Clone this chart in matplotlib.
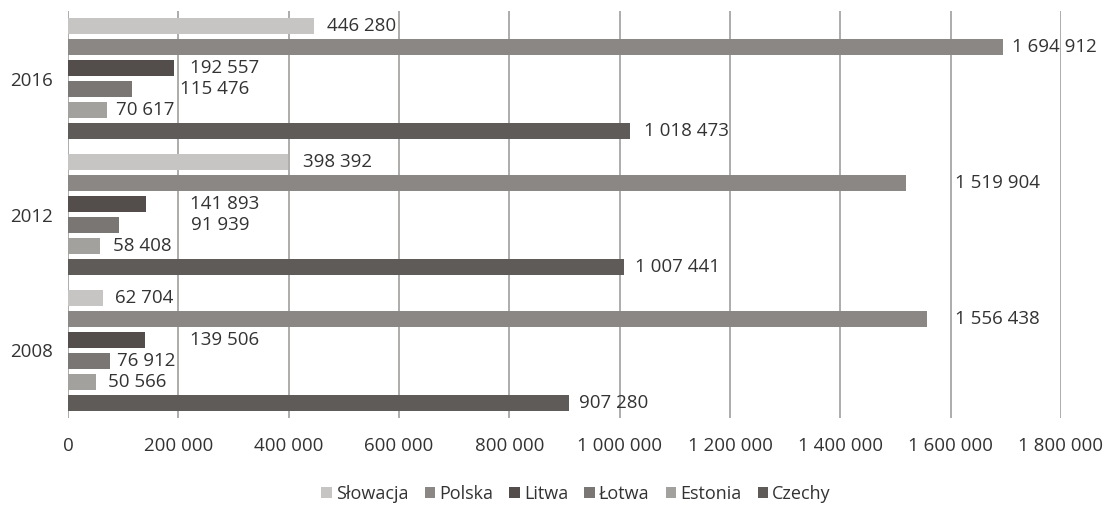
import matplotlib.pyplot as plt
import numpy as np
from matplotlib.patches import Patch

plt.rcParams['font.family'] = ['Open Sans', 'DejaVu Sans']

# Data
years = ['2008', '2012', '2016']
countries = ['Słowacja', 'Polska', 'Litwa', 'Łotwa', 'Estonia', 'Czechy']
slowacja = [62704, 398392, 446280]
polska = [1556438, 1519904, 1694912]
litwa = [139506, 141893, 192557]
lotwa = [76912, 91939, 115476]
estonia = [50566, 58408, 70617]
czechy = [907280, 1007441, 1018473]
series = [slowacja, polska, litwa, lotwa, estonia, czechy]
colors = ['#c6c5c3', '#8a8784', '#534e4b', '#7a7673', '#a3a19e', '#5f5b58']

# label offsets (pixels) from bar end, as placed in the original
label_dx = [
    [12, 28, 45, 7, 12, 10],    # 2008
    [15, 49, 44, 72, 13, 11],   # 2012
    [13, 9, 16, 48, 9, 14],     # 2016
]

def fmt(v):
    return f'{v:,}'.replace(',', ' ')

text_col = '#333333'
fs = 13.5

fig = plt.figure(figsize=(11.05, 5.12), dpi=100)
ax = fig.add_axes([68/1105, 94/512, (1061-68)/1105, 407/512])

slot = 0.155
h = 0.118
y = np.arange(len(years))
for j, (vals, c) in enumerate(zip(series, colors)):
    yy = y + (2.5 - j) * slot
    ax.barh(yy, vals, height=h, color=c, zorder=3)
    for i, v in enumerate(vals):
        ax.annotate(fmt(v), (v, yy[i]), xytext=(label_dx[i][j], 0),
                    textcoords='offset pixels', va='center', ha='left',
                    fontsize=fs, color=text_col, zorder=4)

ax.set_xlim(0, 1800000)
ax.set_ylim(-0.5, 2.5)
ticks = np.arange(0, 1800001, 200000)
ax.set_xticks(ticks)
ax.set_xticklabels([fmt(t) for t in ticks])
ax.set_yticks(y)
ax.set_yticklabels(years)
ax.tick_params(axis='both', length=0, labelsize=fs, labelcolor=text_col)
ax.tick_params(axis='x', pad=14)
ax.tick_params(axis='y', pad=11)
ax.grid(axis='x', color='#a8a6a4', linewidth=1.3, zorder=0)
for s in ax.spines.values():
    s.set_visible(False)

handles = [Patch(facecolor=c, label=n) for n, c in zip(countries, colors)]
fig.legend(handles=handles, loc='center', bbox_to_anchor=(576/1105, 1 - 494/512),
           ncol=6, frameon=False, fontsize=13, handlelength=0.6, handleheight=0.6,
           handletextpad=0.2, columnspacing=0.9, labelcolor=text_col)

fig.savefig('out.png', dpi=100)
